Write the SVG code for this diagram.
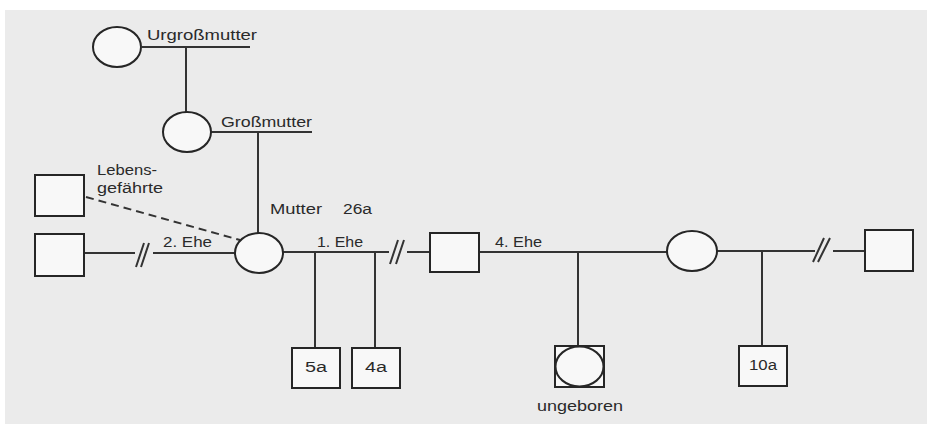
<svg xmlns="http://www.w3.org/2000/svg" width="927" height="424" viewBox="0 0 927 424">
<style>
.bg{fill:#ebebeb}
.n{fill:#f8f8f8;stroke:#262626;stroke-width:2}
.c{fill:none;stroke:#333;stroke-width:2}
.d{fill:none;stroke:#333;stroke-width:2;stroke-dasharray:8 5}
.t{font-family:"Liberation Sans",Arial,sans-serif;font-size:14px;fill:#2a2a2a}
</style>
<rect width="927" height="424" fill="#ffffff"/>
<rect class="bg" x="5" y="10" width="922" height="414"/>
<g id="connectors">
<path class="c" d="M142,47 H250 M186,47 V112"/>
<path class="c" d="M211,132 H312 M258,132 V233"/>
<path class="c" d="M84,253 H135 M153,253 H235 M136,267 L144,243 M141,267 L149,243"/>
<path class="d" d="M86,197 L240,240"/>
<path class="c" d="M283,252 H389 M407,252 H430 M390,264 L398,240 M396,264 L404,240"/>
<path class="c" d="M315,252 V348 M375,252 V348"/>
<path class="c" d="M479,252 H667 M578,252 V346"/>
<path class="c" d="M717,251 H815 M833,251 H865 M813,262 L824,238 M818,262 L830,238 M762,251 V346"/>
</g>
<g id="urgrossmutter">
<ellipse class="n" cx="117" cy="47" rx="24" ry="20"/>
<text class="t" x="147" y="40" textLength="110" lengthAdjust="spacingAndGlyphs">Urgroßmutter</text>
</g>
<g id="grossmutter">
<ellipse class="n" cx="187" cy="132" rx="24" ry="20"/>
<text class="t" x="221" y="127" textLength="91" lengthAdjust="spacingAndGlyphs">Großmutter</text>
</g>
<g id="lebensgefaehrte">
<rect class="n" x="35" y="175" width="49" height="41"/>
<text class="t" x="97" y="175" textLength="60" lengthAdjust="spacingAndGlyphs">Lebens-</text>
<text class="t" x="97" y="193" textLength="66" lengthAdjust="spacingAndGlyphs">gefährte</text>
</g>
<g id="ehemann2">
<rect class="n" x="35" y="234" width="49" height="42"/>
<text class="t" x="163" y="247" textLength="49" lengthAdjust="spacingAndGlyphs">2. Ehe</text>
</g>
<g id="mutter">
<ellipse class="n" cx="259" cy="253" rx="24" ry="20"/>
<text class="t" x="270" y="214" textLength="52" lengthAdjust="spacingAndGlyphs">Mutter</text>
<text class="t" x="343" y="214" textLength="29" lengthAdjust="spacingAndGlyphs">26a</text>
</g>
<g id="ehemann1">
<rect class="n" x="430" y="233" width="49" height="39"/>
<text class="t" x="317" y="247" textLength="46" lengthAdjust="spacingAndGlyphs">1. Ehe</text>
<text class="t" x="495" y="247" textLength="47" lengthAdjust="spacingAndGlyphs">4. Ehe</text>
</g>
<g id="kind5a">
<rect class="n" x="292" y="348" width="48" height="40"/>
<text class="t" x="305" y="372" textLength="22" lengthAdjust="spacingAndGlyphs">5a</text>
</g>
<g id="kind4a">
<rect class="n" x="352" y="348" width="48" height="40"/>
<text class="t" x="365" y="372" textLength="22" lengthAdjust="spacingAndGlyphs">4a</text>
</g>
<g id="ungeboren">
<rect class="n" x="555" y="346" width="49" height="41"/>
<ellipse class="n" cx="579.5" cy="366.5" rx="24" ry="20"/>
<text class="t" x="537" y="411" textLength="86" lengthAdjust="spacingAndGlyphs">ungeboren</text>
</g>
<g id="partnerin">
<ellipse class="n" cx="692" cy="251" rx="25" ry="20"/>
</g>
<g id="partner">
<rect class="n" x="865" y="230" width="48" height="41"/>
</g>
<g id="kind10a">
<rect class="n" x="739" y="346" width="48" height="40"/>
<text class="t" x="749" y="370" textLength="28" lengthAdjust="spacingAndGlyphs">10a</text>
</g>
</svg>
